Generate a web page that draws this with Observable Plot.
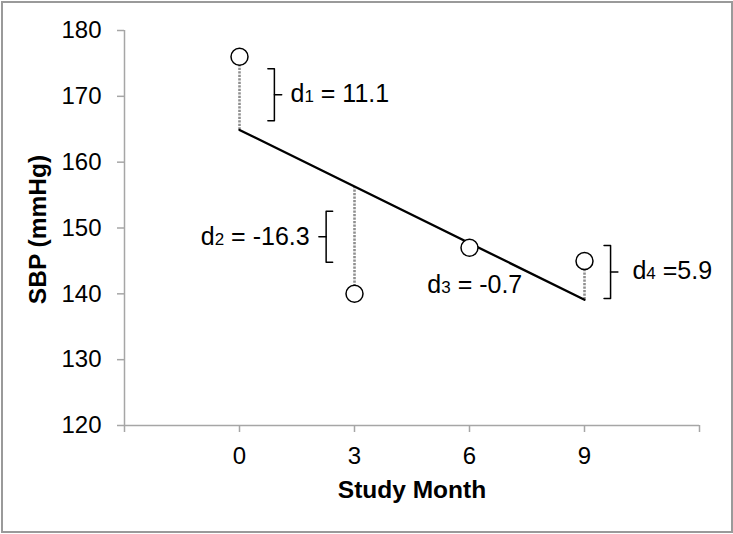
<!DOCTYPE html>
<html>
<head>
<meta charset="utf-8">
<script src="https://cdn.jsdelivr.net/npm/d3@7"></script>
<script src="https://cdn.jsdelivr.net/npm/@observablehq/plot@0.6"></script>
<style>
  html, body { margin: 0; padding: 0; background: white; }
  #wrap { position: relative; width: 733px; height: 534px; overflow: hidden; }
  #border { position: absolute; left: 1px; top: 1px; width: 728px; height: 528px; border: 2px solid #9a9a9a; pointer-events: none; }
</style>
</head>
<body>
<div id="wrap"><div id="chart"></div><div id="border"></div></div>
<script>
// ---- data ----
const months = [0, 3, 6, 9];
const sbp = [176, 140, 147, 145];
const xTicks = [-3, 0, 3, 6, 9, 12];
const xTickLabels = ["", "0", "3", "6", "9", ""];
const yTicks = [120, 130, 140, 150, 160, 170, 180];
const residualLabels = ["d1 = 11.1", "d2 = -16.3", "d3 = -0.7", "d4 =5.9"];

// ---- annotation placement (data units) ----
const labelX = [1.33, 1.83, 4.9, 10.25];
const labelY = [170.3, 148.6, 141.3, 143.4];
const labelAnchor = ["start", "end", "start", "start"];
const bracketX = [0.91, 2.26, 9.68];
const bracketTop = [174.2, 152.55, 147.34];
const bracketBottom = [166.3, 144.8, 139.3];
const bracketSide = [-1, 1, -1];

// ---- least-squares fit ----
const mx = d3.mean(months), my = d3.mean(sbp);
const slope = d3.sum(months, (x, i) => (x - mx) * (sbp[i] - my)) / d3.sum(months, x => (x - mx) ** 2);
const intercept = my - slope * mx;
const fit = x => intercept + slope * x;

const points = months.map((m, i) => ({x: m, y: sbp[i], f: fit(m)}));
const fitLine = d3.extent(months).map(x => ({x, y: fit(x)}));
const labels = residualLabels.map((t, i) => ({t, x: labelX[i], y: labelY[i], a: labelAnchor[i]}));

const serif = 0.17, tick = 0.19;
const bracketPts = [];
const tickPts = [];
bracketX.forEach((bx, i) => {
  const s = bracketSide[i];
  bracketPts.push(
    {k: i, x: bx + s * serif, y: bracketTop[i]},
    {k: i, x: bx, y: bracketTop[i]},
    {k: i, x: bx, y: bracketBottom[i]},
    {k: i, x: bx + s * serif, y: bracketBottom[i]}
  );
  const mid = (bracketTop[i] + bracketBottom[i]) / 2;
  tickPts.push({k: i, x: bx, y: mid}, {k: i, x: bx - s * tick, y: mid});
});

const axisGray = "#a6a6a6";

const chart = Plot.plot({
  width: 733,
  height: 534,
  marginLeft: 124,
  marginRight: 34,
  marginTop: 30,
  marginBottom: 109,
  x: {domain: [-3, 12]},
  y: {domain: [120, 180]},
  style: {fontFamily: "'Liberation Sans', Arial, sans-serif", fontSize: "24px", color: "#000", background: "white"},
  marks: [
    Plot.axisY({ticks: yTicks, tickSize: 7, tickPadding: 16, stroke: axisGray, strokeWidth: 1.5, fill: "#000", label: null, fontSize: 24}),
    Plot.axisX({ticks: xTicks, tickSize: 7, tickPadding: 14, stroke: axisGray, strokeWidth: 1.5, fill: "#000", label: null, fontSize: 24,
      tickFormat: d => xTickLabels[xTicks.indexOf(d)]}),
    Plot.ruleX([xTicks[0]], {stroke: axisGray, strokeWidth: 1.5}),
    Plot.ruleY([yTicks[0]], {stroke: axisGray, strokeWidth: 1.5}),
    Plot.ruleX(points, {x: "x", y1: "f", y2: "y", stroke: "#8f8f8f", strokeWidth: 2.6, strokeDasharray: "2.2,1.3"}),
    Plot.line(fitLine, {x: "x", y: "y", stroke: "#000", strokeWidth: 2.3}),
    Plot.dot(points, {x: "x", y: "y", r: 8.5, fill: "white", stroke: "#000", strokeWidth: 1.5}),
    Plot.line(bracketPts, {x: "x", y: "y", z: "k", stroke: "#000", strokeWidth: 1.5}),
    Plot.line(tickPts, {x: "x", y: "y", z: "k", stroke: "#000", strokeWidth: 1.5}),
    Plot.text(labels.filter(d => d.a === "start"), {x: "x", y: "y", text: "t", textAnchor: "start", fontSize: 25, fill: "#000"}),
    Plot.text(labels.filter(d => d.a === "end"), {x: "x", y: "y", text: "t", textAnchor: "end", fontSize: 25, fill: "#000"}),
    Plot.text(["Study Month"], {frameAnchor: "bottom", lineAnchor: "middle", textAnchor: "middle", dy: 65, fontWeight: "bold", fontSize: 24.5, fill: "#000"}),
    Plot.text(["SBP (mmHg)"], {frameAnchor: "left", lineAnchor: "middle", textAnchor: "middle", rotate: -90, dx: -86, dy: 1.5, fontWeight: "bold", fontSize: 24.5, fill: "#000"})
  ]
});

// subscripts on the residual labels
d3.select(chart).selectAll("text").each(function() {
  const t = this.textContent;
  const m = /^d(\d)(.*)$/.exec(t);
  if (!m) return;
  const sel = d3.select(this);
  sel.text(null);
  sel.append("tspan").text("d");
  sel.append("tspan").attr("font-size", 17).text(m[1]);
  sel.append("tspan").text(m[2]);
});

document.getElementById("chart").appendChild(chart);
</script>
</body>
</html>
